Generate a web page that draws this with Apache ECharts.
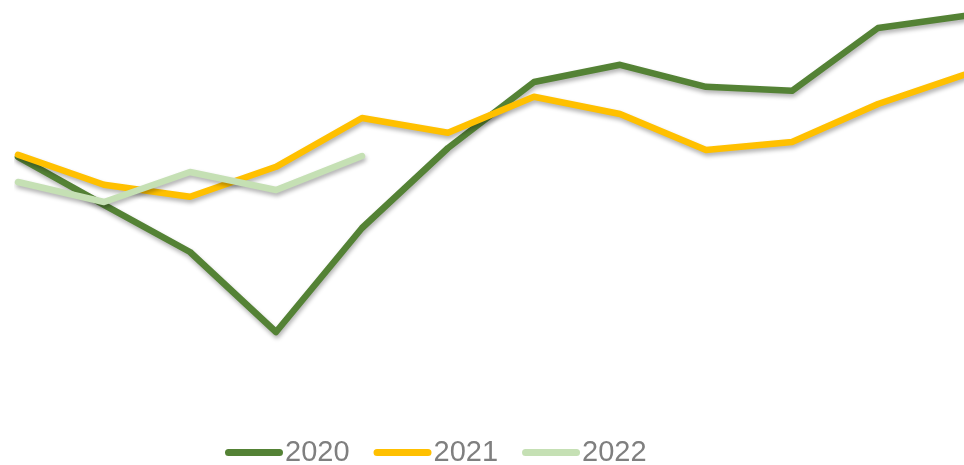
<!DOCTYPE html>
<html>
<head>
<meta charset="utf-8">
<script src="https://cdn.jsdelivr.net/npm/echarts@6/dist/echarts.min.js"></script>
<style>
  html, body { margin: 0; padding: 0; background: #fff; }
  #chart { width: 964px; height: 465px; }
</style>
</head>
<body>
<div id="chart"></div>
<script>
// months, no labels shown on the chart
var categories = ["1", "2", "3", "4", "5", "6", "7", "8", "9", "10", "11", "12"];
var seriesNames = ["2020", "2021", "2022"];
var values2020 = [60.8, 48.8, 37, 17, 43, 63, 79.5, 83.8, 78.3, 77.3, 93, 96];
var values2021 = [61.3, 53.8, 50.8, 58.3, 70.5, 66.8, 75.8, 71.5, 62.5, 64.5, 74, 81.3];
var values2022 = [54.5, 49.5, 57, 52.5, 61];
var colors = ["#548235", "#ffc000", "#c5e0b4"];

var chart = echarts.init(document.getElementById("chart"));

function makeLine(name, data, color) {
  return {
    name: name,
    type: "line",
    data: data,
    symbol: "none",
    color: color,
    lineStyle: {
      width: 6.5,
      color: color,
      cap: "round",
      join: "round",
      shadowColor: "rgba(0,0,0,0.3)",
      shadowBlur: 4,
      shadowOffsetX: 1,
      shadowOffsetY: 3
    },
    animation: false
  };
}

var option = {
  grid: { left: 18, right: 0, top: 0, height: 400 },
  xAxis: {
    type: "category",
    data: categories,
    boundaryGap: false,
    show: false
  },
  yAxis: {
    type: "value",
    min: 0,
    max: 100,
    show: false
  },
  legend: {
    data: seriesNames,
    left: 225,
    top: 438,
    padding: 0,
    itemGap: 24,
    itemWidth: 58,
    itemHeight: 7,
    icon: "path://M3.5,0 L54.5,0 A3.5,3.5 0 0 1 54.5,7 L3.5,7 A3.5,3.5 0 0 1 3.5,0 Z",
    textStyle: {
      color: "#7f7f7f",
      fontSize: 29,
      fontFamily: "Liberation Sans",
      padding: [0, 0, 0, -3]
    }
  },
  series: [
    makeLine(seriesNames[0], values2020, colors[0]),
    makeLine(seriesNames[1], values2021, colors[1]),
    makeLine(seriesNames[2], values2022, colors[2])
  ]
};

chart.setOption(option);
</script>
</body>
</html>
